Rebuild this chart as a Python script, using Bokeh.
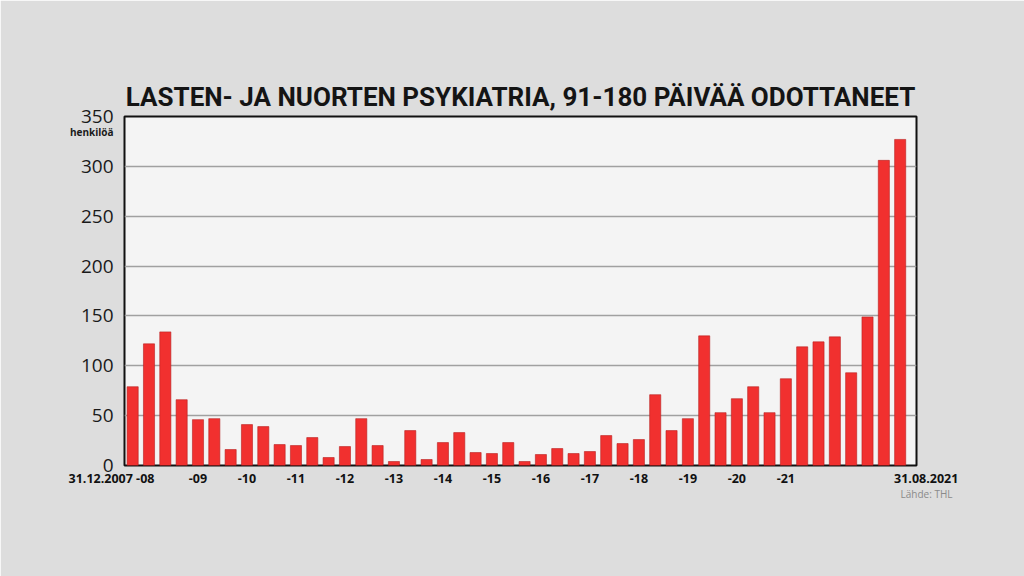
from bokeh.plotting import figure
from bokeh.models import FixedTicker, LinearAxis, Range1d, Title
from bokeh.embed import file_html
from bokeh.resources import INLINE

# ---- data ----
values = [79, 122, 134, 66, 46, 47, 16, 41, 39, 21, 20, 28, 8, 19, 47, 20,
          4, 35, 6, 23, 33, 13, 12, 23, 4, 11, 17, 12, 14, 30, 22, 26,
          71, 35, 47, 130, 53, 67, 79, 53, 87, 119, 124, 129, 93, 149, 306, 327]
periods = list(range(1, len(values) + 1))
tick_positions = [5, 8, 11, 14, 17, 20, 23, 26, 29, 32, 35, 38, 41]
tick_labels = ["-09", "-10", "-11", "-12", "-13", "-14", "-15",
               "-16", "-17", "-18", "-19", "-20", "-21"]
start_label = "31.12.2007 -08"
end_label = "31.08.2021"
y_ticks = [0, 50, 100, 150, 200, 250, 300, 350]
unit_tick = 334
unit_label = "henkilöä"
title_text = "LASTEN- JA NUORTEN PSYKIATRIA, 91-180 PÄIVÄÄ ODOTTANEET"
source_label = "Lähde: THL"
x_start, x_end = 0.5, 49.0

NBSP = "\u00a0"

p = figure(width=1024, height=576,
           x_range=Range1d(x_start, x_end), y_range=Range1d(0, 350),
           output_backend="svg", toolbar_location=None,
           min_border_left=124, min_border_right=108,
           min_border_top=116, min_border_bottom=111,
           title=title_text)

p.background_fill_color = "#f4f4f4"
p.border_fill_color = "#dddddd"
p.outline_line_color = "#111111"
p.outline_line_width = 2

p.title.align = "center"
p.title.text_font = "Roboto"
p.title.text_font_size = "26px"
p.title.text_font_style = "bold"
p.title.text_color = "#141414"

p.vbar(x=periods, top=values, width=0.68, fill_color="#f1302f",
       line_color="#b82020", line_width=0.6)

# y axis
p.yaxis.ticker = FixedTicker(ticks=y_ticks)
p.yaxis.axis_line_color = None
p.yaxis.major_tick_line_color = None
p.yaxis.major_tick_out = 0
p.yaxis.major_tick_in = 0
p.yaxis.minor_tick_line_color = None
p.yaxis.major_label_standoff = 11
p.yaxis.major_label_text_font = "Open Sans"
p.yaxis.major_label_text_font_size = "19px"
p.yaxis.major_label_text_color = "#1a1a1a"

# unit text under the top y tick (extra left axis pulled back next to the frame)
unit_axis = LinearAxis(ticker=FixedTicker(ticks=[unit_tick]),
                       major_label_overrides={unit_tick: unit_label},
                       axis_line_color=None, major_tick_line_color=None,
                       minor_tick_line_color=None, major_tick_out=0, major_tick_in=0,
                       major_label_standoff=-36,
                       major_label_text_font="Open Sans",
                       major_label_text_font_style="bold",
                       major_label_text_font_size="10px",
                       major_label_text_color="#1a1a1a")
p.add_layout(unit_axis, "left")

# x axis (end labels padded so that they sit beside the frame edges)
all_ticks = [x_start] + tick_positions + [x_end]
all_labels = ([start_label + NBSP * 8] + tick_labels + [NBSP * 6 + end_label])
p.xaxis.ticker = FixedTicker(ticks=all_ticks)
p.xaxis.major_label_overrides = {t: l for t, l in zip(all_ticks, all_labels)}
p.xaxis.axis_line_color = None
p.xaxis.major_tick_line_color = None
p.xaxis.major_tick_out = 0
p.xaxis.major_tick_in = 0
p.xaxis.minor_tick_line_color = None
p.xaxis.major_label_standoff = 4
p.xaxis.major_label_text_font = "Open Sans"
p.xaxis.major_label_text_font_style = "bold"
p.xaxis.major_label_text_font_size = "12.5px"
p.xaxis.major_label_text_color = "#111111"

p.xgrid.grid_line_color = None
p.ygrid.grid_line_color = "#a0a0a0"
p.ygrid.grid_line_width = 1.5

# source note
p.add_layout(Title(text=source_label, align="right", offset=-36, standoff=-9,
                   text_font="Open Sans", text_font_style="normal",
                   text_font_size="10px", text_color="#8a8a8a"), "below")

open("out.html", "w").write(file_html(p, INLINE))
